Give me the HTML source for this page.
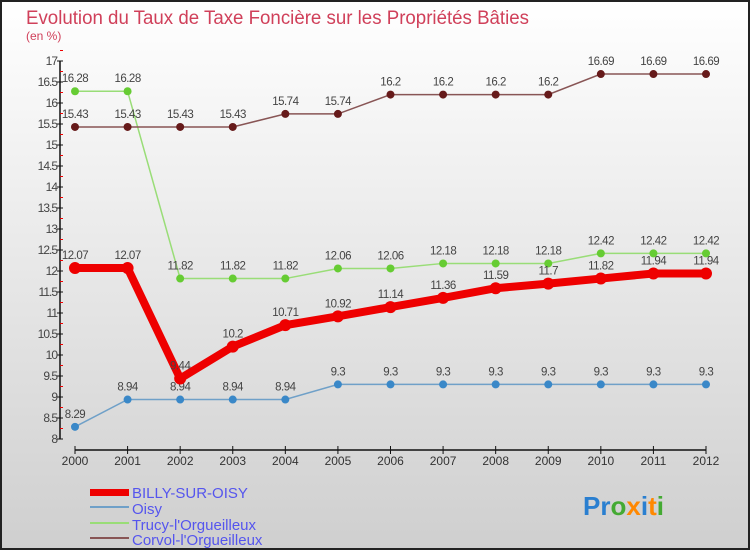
<!DOCTYPE html>
<html><head><meta charset="utf-8"><style>
html,body{margin:0;padding:0}
body{width:750px;height:550px;overflow:hidden;font-family:"Liberation Sans",sans-serif}
</style></head><body>
<svg id="chart" width="750" height="550" xmlns="http://www.w3.org/2000/svg">
<defs><linearGradient id="bg" x1="0" y1="0" x2="0" y2="1"><stop offset="0" stop-color="#ffffff"/><stop offset="1" stop-color="#cfcfcf"/></linearGradient></defs>
<rect x="1" y="1" width="748" height="548" fill="url(#bg)" stroke="#222" stroke-width="2"/>
<text x="26" y="24" font-size="19" fill="#d0405a" textLength="503" lengthAdjust="spacingAndGlyphs">Evolution du Taux de Taxe Foncière sur les Propriétés Bâties</text>
<text x="26" y="40" font-size="12" fill="#d0405a">(en %)</text>
<g id="axes"></g><g id="series"></g>
<g font-size="15" fill="#5555ee">
<rect x="90" y="489" width="39" height="7" fill="#ee0000"/>
<text x="132" y="498">BILLY-SUR-OISY</text>
<rect x="90" y="506" width="39" height="2" fill="#6fa0c8"/>
<text x="132" y="514">Oisy</text>
<rect x="90" y="522" width="39" height="2" fill="#99dd77"/>
<text x="132" y="530">Trucy-l'Orgueilleux</text>
<rect x="90" y="537" width="39" height="2" fill="#885555"/>
<text x="132" y="545">Corvol-l'Orgueilleux</text>
</g>
<text x="583" y="515" font-size="26" font-weight="bold"><tspan fill="#2a7fd0">Pr</tspan><tspan fill="#44aa33">o</tspan><tspan fill="#ff8800">x</tspan><tspan fill="#2a7fd0">i</tspan><tspan fill="#ff8800">t</tspan><tspan fill="#44aa33">i</tspan></text>
</svg>
<script>
const years=[2000,2001,2002,2003,2004,2005,2006,2007,2008,2009,2010,2011,2012];
const billy=[12.07,12.07,9.44,10.2,10.71,10.92,11.14,11.36,11.59,11.7,11.82,11.94,11.94];
const oisy=[8.29,8.94,8.94,8.94,8.94,9.3,9.3,9.3,9.3,9.3,9.3,9.3,9.3];
const trucy=[16.28,16.28,11.82,11.82,11.82,12.06,12.06,12.18,12.18,12.18,12.42,12.42,12.42];
const corvol=[15.43,15.43,15.43,15.43,15.74,15.74,16.2,16.2,16.2,16.2,16.69,16.69,16.69];
const yTicks=[8,8.5,9,9.5,10,10.5,11,11.5,12,12.5,13,13.5,14,14.5,15,15.5,16,16.5,17];
const NS="http://www.w3.org/2000/svg";
const x=i=>75+i*(706-75)/(years.length-1);
const y=v=>439-(v-8)*42;
function mk(tag,attrs,parent){const e=document.createElementNS(NS,tag);for(const k in attrs)e.setAttribute(k,attrs[k]);parent.appendChild(e);return e;}
const ax=document.getElementById('axes');
let a=mk('line',{x1:60,y1:y(17),x2:60,y2:y(8),stroke:'#111','stroke-width':1.5},ax);


yTicks.forEach(t=>{
  const l=mk('line',{x1:57,x2:63,y1:y(t),y2:y(t),stroke:'#111'},ax);
  
  
  const r=mk('line',{x1:60,x2:63,y1:y(t+0.25),y2:y(t+0.25),stroke:'#e00'},ax);
  
  
  const tx=mk('text',{x:57,y:y(t)+4,'font-size':12,fill:'#444','text-anchor':'end','letter-spacing':'-1'},ax);
  tx.textContent=String(t);
  
  
});
a=mk('line',{x1:75,y1:450,x2:706,y2:450,stroke:'#111','stroke-width':1.5},ax);


years.forEach((yr,i)=>{
  const l=mk('line',{x1:x(i),x2:x(i),y1:446,y2:454,stroke:'#111'},ax);
  
  
  const t=mk('text',{x:x(i),y:465,'font-size':12,fill:'#333','text-anchor':'middle'},ax);
  t.textContent=yr;
  
  
});
const sg=document.getElementById('series');
function series(vals,name,color,dot,w,r){
  const g=mk('g',{},sg);
  
  
  const p=mk('polyline',{points:vals.map((v,i)=>x(i)+','+y(v)).join(' '),fill:'none',stroke:color,'stroke-width':w},g);
  
  
  vals.forEach((v,i)=>{
    const c=mk('circle',{cx:x(i),cy:y(v),r:r,fill:dot},g);
    
    
    const t=mk('text',{x:x(i),y:y(v)-9,'font-size':11.5,fill:'#444','text-anchor':'middle','letter-spacing':'-0.5'},g);
    t.textContent=String(v);
    
    
  });
}
series(oisy,'oisy','#6fa0c8','#3a88c8',1.5,4);
series(trucy,'trucy','#99dd77','#66cc33',1.5,4);
series(corvol,'corvol','#885555','#661a1a',1.5,4);
series(billy,'billy','#ee0000','#ee0000',8,6);
</script>
</body></html>
